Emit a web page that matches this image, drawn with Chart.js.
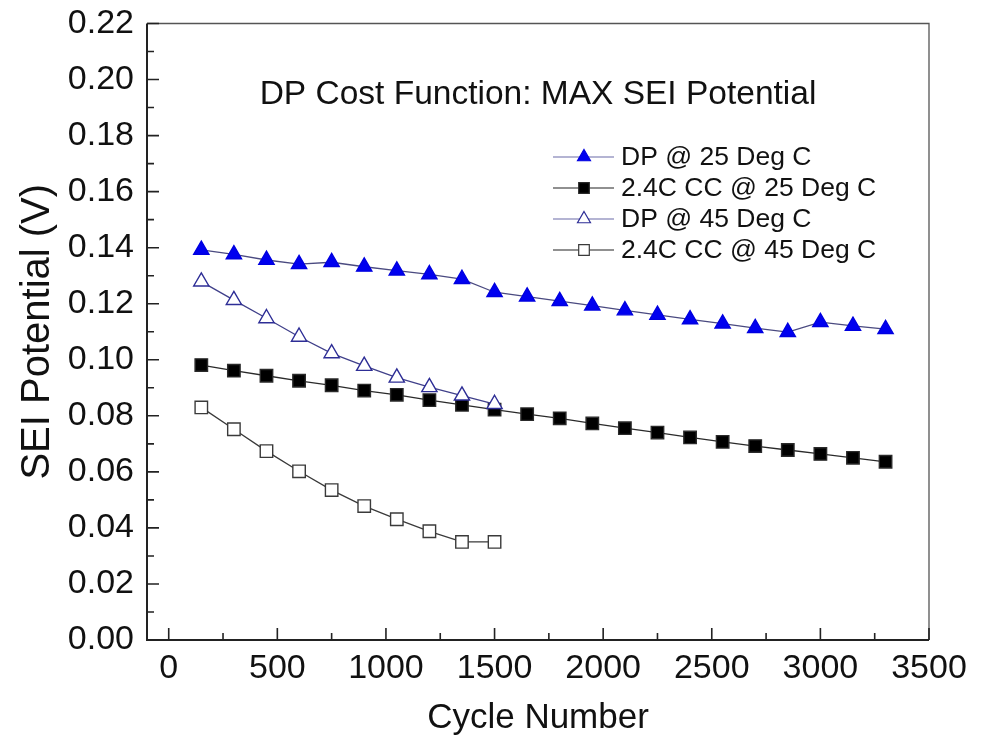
<!DOCTYPE html>
<html>
<head>
<meta charset="utf-8">
<title>SEI Potential vs Cycle Number</title>
<script src="https://cdn.jsdelivr.net/npm/chart.js@4.4.1/dist/chart.umd.min.js"></script>
<style>
  html, body { margin: 0; padding: 0; background: #fff; }
  #wrap { width: 982px; height: 739px; }
</style>
</head>
<body>
<div id="wrap"><canvas id="seiChart" width="982" height="739"></canvas></div>
<script>
// cycle numbers where the SEI potential was logged
const cycles = [150, 300, 450, 600, 750, 900, 1050, 1200, 1350, 1500, 1650,
                1800, 1950, 2100, 2250, 2400, 2550, 2700, 2850, 3000, 3150, 3300];
const cycles45 = [150, 300, 450, 600, 750, 900, 1050, 1200, 1350, 1500];

// max SEI potential (V) per run
const dp25 = [0.1392, 0.1376, 0.1356, 0.1341, 0.1348, 0.1332, 0.1318, 0.1305, 0.1288, 0.1241, 0.1225,
              0.1209, 0.1193, 0.1176, 0.1160, 0.1144, 0.1129, 0.1113, 0.1099, 0.1134, 0.1121, 0.1109];
const cc25 = [0.0981, 0.0961, 0.0943, 0.0925, 0.0909, 0.0890, 0.0875, 0.0856, 0.0839, 0.0822, 0.0806,
              0.0791, 0.0773, 0.0756, 0.0740, 0.0723, 0.0707, 0.0692, 0.0678, 0.0664, 0.0650, 0.0636];
const dp45 = [0.1279, 0.1213, 0.1148, 0.1082, 0.1023, 0.0978, 0.0936, 0.0902, 0.0872, 0.0842];
const cc45 = [0.0830, 0.0752, 0.0674, 0.0602, 0.0535, 0.0478, 0.0431, 0.0388, 0.0350, 0.0350];

const seriesNames = ['DP @ 25 Deg C', '2.4C CC @ 25 Deg C', 'DP @ 45 Deg C', '2.4C CC @ 45 Deg C'];

const xTickValues = [0, 500, 1000, 1500, 2000, 2500, 3000, 3500];
const xMinorValues = [250, 750, 1250, 1750, 2250, 2750, 3250];
const yTickValues = [0.00, 0.02, 0.04, 0.06, 0.08, 0.10, 0.12, 0.14, 0.16, 0.18, 0.20, 0.22];
const yMinorValues = [0.01, 0.03, 0.05, 0.07, 0.09, 0.11, 0.13, 0.15, 0.17, 0.19, 0.21];

const chartTitle = 'DP Cost Function: MAX SEI Potential';

const FONT = "'Liberation Sans', Arial, Helvetica, sans-serif";
const MARK = 8.8;

// marker look for each series (same order as seriesNames)
const styles = [
  { shape: 'triangle', fill: '#0000f0', edge: '#0000e0', line: '#4a4a80' },
  { shape: 'rect',     fill: '#000000', edge: '#2a2a2a', line: '#2a2a2a' },
  { shape: 'triangle', fill: '#ffffff', edge: '#2e2e96', line: '#40408a' },
  { shape: 'rect',     fill: '#ffffff', edge: '#3a3a3a', line: '#3a3a3a' }
];

function toPoints(xs, ys) {
  return ys.map(function (y, i) { return { x: xs[i], y: y }; });
}

function makeSet(i, xs, ys, order) {
  const s = styles[i];
  return {
    label: seriesNames[i],
    data: toPoints(xs, ys),
    order: order,
    borderColor: s.line,
    borderWidth: 1.3,
    pointStyle: s.shape,
    pointRadius: MARK,
    pointHoverRadius: MARK,
    pointBackgroundColor: s.fill,
    pointBorderColor: s.edge,
    pointBorderWidth: 1.4,
    tension: 0,
    fill: false
  };
}

// small marker drawer for the legend
function drawMarker(ctx, shape, x, y, r, fill, edge) {
  ctx.beginPath();
  if (shape === 'triangle') {
    ctx.moveTo(x, y - r);
    ctx.lineTo(x + r * 0.866, y + r * 0.5);
    ctx.lineTo(x - r * 0.866, y + r * 0.5);
    ctx.closePath();
  } else {
    const h = r * Math.SQRT1_2;
    ctx.rect(x - h, y - h, 2 * h, 2 * h);
  }
  ctx.fillStyle = fill;
  ctx.fill();
  ctx.lineWidth = 1.2;
  ctx.strokeStyle = edge;
  ctx.stroke();
}

// frame, inward tick marks, inner title and legend
const decorations = {
  id: 'decorations',
  afterDraw(chart) {
    const ctx = chart.ctx;
    const a = chart.chartArea;
    const xs = chart.scales.x;
    const ys = chart.scales.y;
    ctx.save();

    // box
    ctx.strokeStyle = '#555';
    ctx.lineWidth = 1.3;
    ctx.beginPath();
    ctx.moveTo(a.left, a.top);
    ctx.lineTo(a.right, a.top);
    ctx.lineTo(a.right, a.bottom);
    ctx.stroke();
    ctx.strokeStyle = '#222';
    ctx.lineWidth = 2;
    ctx.beginPath();
    ctx.moveTo(a.left, a.top);
    ctx.lineTo(a.left, a.bottom);
    ctx.lineTo(a.right, a.bottom);
    ctx.stroke();

    // ticks pointing into the plot
    ctx.lineWidth = 1.6;
    ctx.beginPath();
    yTickValues.forEach(function (v) {
      const py = ys.getPixelForValue(v);
      ctx.moveTo(a.left, py); ctx.lineTo(a.left + 12, py);
    });
    yMinorValues.forEach(function (v) {
      const py = ys.getPixelForValue(v);
      ctx.moveTo(a.left, py); ctx.lineTo(a.left + 7, py);
    });
    xTickValues.forEach(function (v) {
      const px = xs.getPixelForValue(v);
      ctx.moveTo(px, a.bottom); ctx.lineTo(px, a.bottom - 12);
    });
    xMinorValues.forEach(function (v) {
      const px = xs.getPixelForValue(v);
      ctx.moveTo(px, a.bottom); ctx.lineTo(px, a.bottom - 7);
    });
    ctx.stroke();

    // title inside the plot
    ctx.fillStyle = '#111';
    ctx.font = '33.5px ' + FONT;
    ctx.textAlign = 'center';
    ctx.textBaseline = 'middle';
    ctx.fillText(chartTitle, (a.left + a.right) / 2, 95);

    // legend
    ctx.font = '26.5px ' + FONT;
    ctx.textAlign = 'left';
    seriesNames.forEach(function (name, i) {
      const s = styles[i];
      const y = 157 + i * 31;
      ctx.strokeStyle = s.shape === 'triangle' ? '#6b6ba8' : '#222';
      ctx.lineWidth = 1.2;
      ctx.beginPath();
      ctx.moveTo(553, y); ctx.lineTo(614, y);
      ctx.stroke();
      drawMarker(ctx, s.shape, 584, y, 7.5, s.fill, s.edge);
      ctx.fillStyle = '#111';
      ctx.fillText(name, 621, y + 1);
    });

    ctx.restore();
  }
};

new Chart(document.getElementById('seiChart'), {
  type: 'line',
  data: {
    datasets: [
      makeSet(0, cycles, dp25, 0),
      makeSet(1, cycles, cc25, 2),
      makeSet(2, cycles45, dp45, 1),
      makeSet(3, cycles45, cc45, 3)
    ]
  },
  options: {
    responsive: false,
    animation: false,
    layout: { padding: { left: 0, right: 53, top: 23.5, bottom: 0 } },
    plugins: {
      legend: { display: false },
      tooltip: { enabled: false },
      title: { display: false }
    },
    scales: {
      x: {
        type: 'linear',
        min: -100,
        max: 3500,
        afterBuildTicks: function (scale) {
          scale.ticks = xTickValues.map(function (v) { return { value: v }; });
        },
        afterFit: function (scale) {
          scale.height = 99;
          scale.paddingLeft = 0;
          scale.paddingRight = 0;
        },
        grid: { display: false, drawTicks: false },
        border: { display: false },
        ticks: {
          callback: function (v) { return String(v); },
          font: { family: FONT, size: 34 },
          color: '#111',
          padding: 8,
          maxRotation: 0,
          autoSkip: false
        },
        title: {
          display: true,
          text: 'Cycle Number',
          font: { family: FONT, size: 35 },
          color: '#111',
          padding: { top: 0, bottom: 0 }
        }
      },
      y: {
        min: 0,
        max: 0.22,
        afterBuildTicks: function (scale) {
          scale.ticks = yTickValues.map(function (v) { return { value: v }; });
        },
        afterFit: function (scale) {
          scale.width = 147;
          scale.paddingTop = 0;
          scale.paddingBottom = 0;
        },
        grid: { display: false, drawTicks: false },
        border: { display: false },
        ticks: {
          callback: function (v) { return v.toFixed(2); },
          font: { family: FONT, size: 34 },
          color: '#111',
          padding: 13,
          autoSkip: false
        },
        title: {
          display: true,
          text: 'SEI Potential (V)',
          font: { family: FONT, size: 40 },
          color: '#111',
          padding: { top: 14, bottom: 0 }
        }
      }
    }
  },
  plugins: [decorations]
});
</script>
</body>
</html>
